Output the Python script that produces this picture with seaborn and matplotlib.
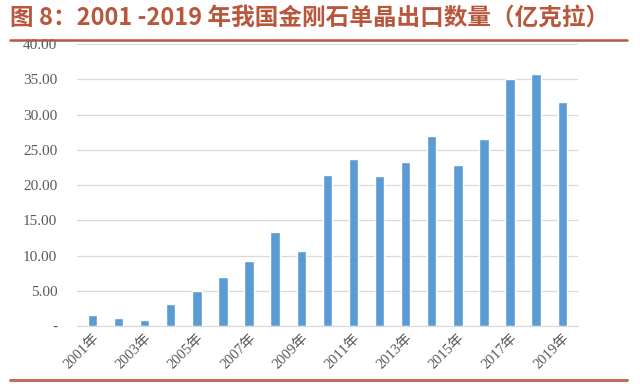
import pandas as pd
import seaborn as sns
import matplotlib.pyplot as plt
from matplotlib.lines import Line2D

years = [str(y) for y in range(2001, 2020)]
exports = [1.5, 1.2, 0.9, 3.1, 5.0, 6.9, 9.2, 13.4, 10.6, 21.5,
           23.7, 21.3, 23.3, 26.9, 22.8, 26.5, 35.0, 35.7, 31.8]
yticks = [0, 5, 10, 15, 20, 25, 30, 35, 40]
ytick_labels = ['-', '5.00', '10.00', '15.00', '20.00', '25.00', '30.00', '35.00', '40.00']

df = pd.DataFrame({'year': years, 'value': exports})

sns.set_style('white')
plt.rcParams['font.family'] = ['Liberation Serif', 'Noto Sans CJK SC', 'DejaVu Sans']

fig = plt.figure(figsize=(6.4, 3.84), dpi=100)
ax = fig.add_axes([0.12, 0.151, 0.783, 0.734])

sns.barplot(data=df, x='year', y='value', color='#5b9bd5', width=0.36,
            saturation=1, ax=ax)

ax.set_ylim(0, 40)
ax.set_yticks(yticks)
ax.set_yticklabels(ytick_labels, fontsize=11, color='#595959')
ax.set_xlim(-0.6, len(years) - 0.4)
ax.set_xticks(range(0, len(years), 2))
ax.set_xticklabels([years[i] + '年' for i in range(0, len(years), 2)],
                   rotation=45, ha='right', rotation_mode='anchor',
                   fontsize=10.5, color='#595959')
ax.tick_params(axis='y', length=0, pad=14)
ax.tick_params(axis='x', length=0, pad=4)
ax.set_xlabel('')
ax.set_ylabel('')
ax.yaxis.grid(True, color='#d9d9d9', linewidth=0.9)
ax.set_axisbelow(True)
for s in ['top', 'right', 'left']:
    ax.spines[s].set_visible(False)
ax.spines['bottom'].set_color('#d9d9d9')

fig.text(0.016, 0.955, '图 8：2001 -2019 年我国金刚石单晶出口数量（亿克拉）',
         fontsize=17, fontweight='bold', color='#b8573c', va='center',
         family=['Noto Sans CJK SC', 'DejaVu Sans'])
fig.add_artist(Line2D([0.016, 0.98], [0.896, 0.896], color='#b8573c', linewidth=1.8))
fig.add_artist(Line2D([0.016, 0.98], [0.01, 0.01], color='#c0705a', linewidth=2.2))

fig.savefig('out.png', dpi=100)
